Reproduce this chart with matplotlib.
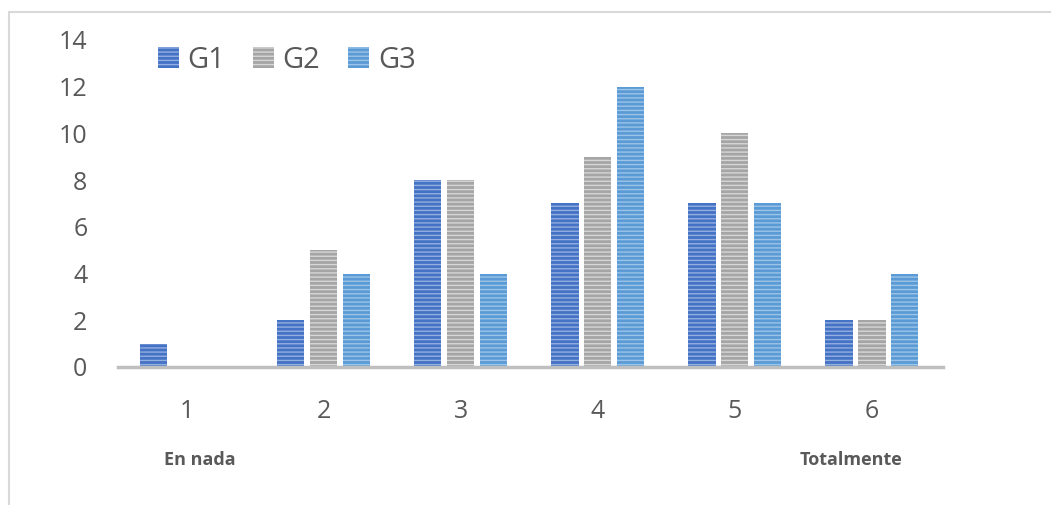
import matplotlib.pyplot as plt
from matplotlib.patches import Rectangle, Patch

plt.rcParams['font.family'] = ['Open Sans', 'DejaVu Sans']

categories = [1, 2, 3, 4, 5, 6]
g1 = [1, 2, 8, 7, 7, 2]
g2 = [0, 5, 8, 9, 10, 2]
g3 = [0, 4, 4, 12, 7, 4]
series = [("G1", g1, "#4472C4", "#93AEE0"),
          ("G2", g2, "#A5A5A5", "#D6D6D6"),
          ("G3", g3, "#5B9BD5", "#9CC3E8")]

fig = plt.figure(figsize=(10.51, 5.05), dpi=100)
ax = fig.add_axes([0.1123, 0.2733, 0.785, 0.6475])

offsets = [-0.24, 0.0, 0.24]
width = 0.2
handles = []
for (name, vals, face, stripe), off in zip(series, offsets):
    xs = [c + off for c in categories]
    ax.bar(xs, vals, width, color=face, edgecolor=stripe, linewidth=0, hatch='----')
    handles.append(Patch(facecolor=face, edgecolor=stripe, linewidth=0, hatch='----', label=name))

ax.set_xlim(0.5, 6.52)
ax.set_ylim(0, 14)
ax.set_yticks(range(0, 15, 2))
ax.set_xticks(categories)
for s in ['top', 'right', 'left']:
    ax.spines[s].set_visible(False)
ax.spines['bottom'].set_color('#BFBFBF')
ax.spines['bottom'].set_linewidth(2.5)
ax.tick_params(axis='both', length=0, labelsize=18, labelcolor='#595959')
ax.tick_params(axis='y', pad=22)
ax.tick_params(axis='x', pad=23)

fig.text(200 / 1051, 1 - 460 / 505, "En nada", ha='center', va='center',
         fontsize=13, fontweight='bold', color='#595959')
fig.text(851 / 1051, 1 - 460 / 505, "Totalmente", ha='center', va='center',
         fontsize=13, fontweight='bold', color='#595959')

fig.legend(handles=handles, loc='center left', bbox_to_anchor=(143 / 1051, 1 - 60 / 505),
           ncol=3, frameon=False, fontsize=21, handlelength=0.72, handleheight=0.72,
           handletextpad=0.3, columnspacing=0.95, labelcolor='#595959', borderpad=0)

# light frame around the chart area
fig.patches.append(Rectangle((8.5 / 1051, -0.01), 1.05, 1 - 11.5 / 505 + 0.01,
                             transform=fig.transFigure, fill=False,
                             edgecolor='#D9D9D9', linewidth=1.5))

fig.savefig("out.png", dpi=100)
